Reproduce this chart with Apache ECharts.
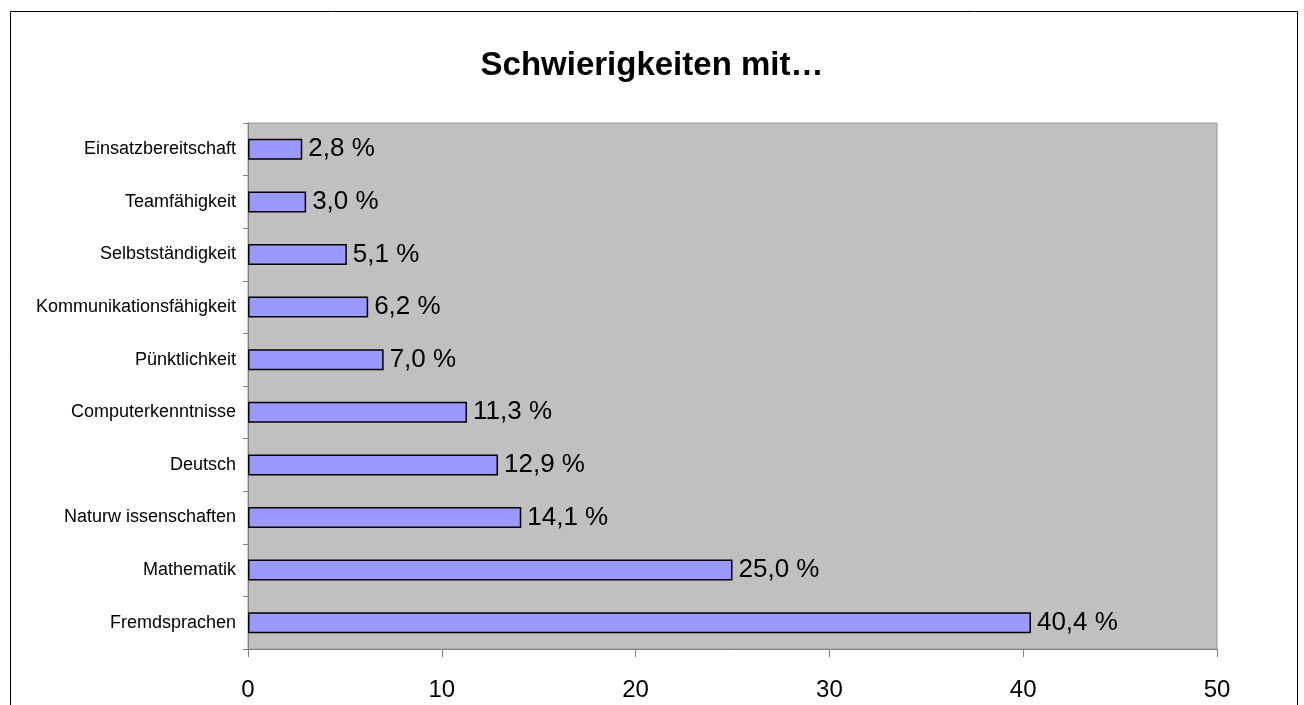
<!DOCTYPE html>
<html>
<head>
<meta charset="utf-8">
<script src="https://cdn.jsdelivr.net/npm/echarts@6/dist/echarts.min.js"></script>
<style>
  html, body { margin: 0; padding: 0; background: #fff; }
  #chart { width: 1304px; height: 705px; }
</style>
</head>
<body>
<div id="chart"></div>
<script>
// Kategorien von oben nach unten
const categories = [
  'Einsatzbereitschaft', 'Teamfähigkeit', 'Selbstständigkeit',
  'Kommunikationsfähigkeit', 'Pünktlichkeit', 'Computerkenntnisse',
  'Deutsch', 'Naturw issenschaften', 'Mathematik', 'Fremdsprachen'
]
const values = [2.8, 3.0, 5.1, 6.2, 7.0, 11.3, 12.9, 14.1, 25.0, 40.4]
const xTicks = [0, 10, 20, 30, 40, 50]

const chart = echarts.init(document.getElementById('chart'))

chart.setOption({
  animation: false,
  textStyle: { fontFamily: 'Liberation Sans, Arial, sans-serif' },
  title: {
    text: 'Schwierigkeiten mit…',
    left: 'center',
    top: 44,
    textStyle: { fontSize: 33, fontWeight: 'bold', color: '#000' }
  },
  // äußerer Rahmen
  graphic: [{
    type: 'rect',
    shape: { x: 10.5, y: 11.5, width: 1287, height: 720 },
    style: { fill: 'none', stroke: '#000', lineWidth: 1 },
    silent: true
  }],
  grid: {
    left: 248, right: 87, top: 123, bottom: 56,
    show: true,
    backgroundColor: '#C0C0C0',
    borderColor: '#9a9a9a',
    borderWidth: 1
  },
  xAxis: {
    type: 'value',
    min: xTicks[0],
    max: xTicks[xTicks.length - 1],
    interval: 10,
    axisLine: { show: true, lineStyle: { color: '#808080', width: 1 } },
    axisTick: { show: true, length: 8, lineStyle: { color: '#808080' } },
    splitLine: { show: false },
    axisLabel: { fontSize: 24, color: '#000', margin: 29 }
  },
  yAxis: {
    type: 'category',
    data: categories,
    inverse: true,
    axisLine: { show: true, lineStyle: { color: '#808080', width: 1 } },
    axisTick: { show: true, length: 5, lineStyle: { color: '#808080' } },
    axisLabel: { fontSize: 18, color: '#000', margin: 12 }
  },
  series: [{
    type: 'bar',
    data: values,
    barWidth: 21,
    itemStyle: { color: '#9999FF', borderColor: '#000', borderWidth: 1.5 },
    label: {
      show: true,
      position: 'right',
      distance: 6,
      fontSize: 26,
      color: '#000',
      formatter: p => p.value.toFixed(1).replace('.', ',') + ' %'
    }
  }]
})
</script>
</body>
</html>
